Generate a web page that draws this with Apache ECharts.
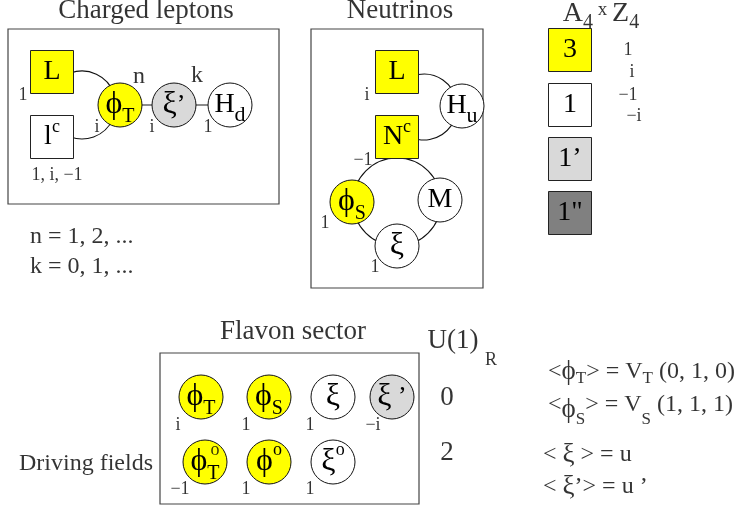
<!DOCTYPE html>
<html>
<head>
<meta charset="utf-8">
<script src="https://cdn.jsdelivr.net/npm/echarts@6/dist/echarts.min.js"></script>
<style>
  html, body { margin: 0; background: #fff; }
  #chart { width: 739px; height: 516px; }
</style>
</head>
<body>
<div id="chart"></div>
<script>
// sector frames: [x1, y1, x2, y2]
const frames = [
  [8, 29, 279, 204],
  [311, 29, 483, 288],
  [160, 353, 419, 504],
];

// square fields: [x, y, A4 rep, label]
const squareFields = [
  [52, 72, '3', '{m|L}'],
  [52, 137, '1', '{m|l}{sup|c}'],
  [397, 72, '3', '{m|L}'],
  [397, 137, '3', '{m|N}{sup|c}'],
  [570, 50, '3', '{m|3}'],
  [570, 105, '1', '{m|1}'],
  [570, 159, "1'", '{m|1’}'],
  [570, 213, '1"', '{m|1"}'],
];

// round fields: [x, y, A4 rep, label]
const circleFields = [
  [120, 105, '3', '{g|ϕ}{sub|T}'],
  [174, 105, "1'", '{g|ξ}{pr|’}'],
  [230, 105, '1', '{m|H}{subd|d}'],
  [462, 106, '1', '{m|H}{subd|u}'],
  [352, 202, '3', '{g|ϕ}{sub|S}'],
  [440, 200, '1', '{m|M}'],
  [397, 246, '1', '{g|ξ}'],
  [201, 397, '3', '{g|ϕ}{sub|T}'],
  [269, 397, '3', '{g|ϕ}{sub|S}'],
  [333, 397, '1', '{g|ξ}'],
  [392, 397, "1'", '{g|ξ}{pr| ’}'],
  [205, 462, '3', '{g|ϕ}{sub|T}'],
  [269, 462, '3', '{g|ϕ}{supo|o}'],
  [333, 462, '1', '{g|ξ}{supo|o}'],
];

// couplings drawn as arcs: [cx, cy, r, startDeg, endDeg]
const arcs = [
  [82, 105, 34, -110, 110],
  [424, 107, 33, -100, 100],
  [397, 202, 44, 0, 360],
];

// straight couplings
const bonds = [[[120, 105], [230, 105]]];

// Z4 charges: [x, y, text]
const charges = [
  [23, 95, '1'], [97, 127, 'i'], [152, 127, 'i'], [208, 127, '1'],
  [57, 175, '1, i, −1'],
  [367, 95, 'i'], [363, 160, '−1'], [325, 223, '1'], [375, 267, '1'],
  [628, 50, '1'], [632, 72, 'i'], [628, 95, '−1'], [634, 116, '−i'],
  [178, 425, 'i'], [246, 425, '1'], [310, 425, '1'], [373, 425, '−i'],
  [180, 489, '−1'], [246, 489, '1'], [310, 489, '1'],
];

// free text: [x, y, kind, text]
const captions = [
  [146, 11, 'title', 'Charged leptons'],
  [400, 11, 'title', 'Neutrinos'],
  [601, 14, 'title', '{m|A}{sub4|4}{x| x }{m|Z}{sub4|4}'],
  [293, 332, 'title', 'Flavon sector'],
  [453, 341, 'title', 'U(1)'],
  [491, 360, 'small', 'R'],
  [139, 77, 'note', 'n'],
  [197, 76, 'note', 'k'],
  [215, 450, 'small', 'o'],
  [30, 237, 'noteL', 'n = 1, 2, ...'],
  [30, 267, 'noteL', 'k = 0, 1, ...'],
  [86, 464, 'note', 'Driving fields'],
  [447, 398, 'title', '0'],
  [447, 453, 'title', '2'],
  [548, 372, 'vev', '{v|<}{vg|ϕ}{vs|T}{v|> = V}{vs|T}{v| (0, 1, 0)}'],
  [548, 405, 'vev', '{v|<}{vp|ϕ}{vs2|S}{v|> = V}{vs2|S}{v| (1, 1, 1)}'],
  [543, 455, 'vev', '{v|< }{vg|ξ}{v| > = u}'],
  [543, 487, 'vev', '{v|< }{vg|ξ}{v|’> = u ’}'],
];

const FONT = '"Liberation Serif", "DejaVu Serif", serif';
const fills = { '3': '#ffff00', '1': '#ffffff', "1'": '#d9d9d9', '1"': '#808080' };

// padding on top pushes a token down by half of it, padding below lifts it
const rich = {
  m: { fontSize: 28, lineHeight: 30, fontFamily: FONT, color: '#000' },
  g: { fontSize: 32, lineHeight: 30, fontFamily: FONT, color: '#000' },
  sub: { fontSize: 20, padding: [24, 0, 0, 0], fontFamily: FONT, color: '#000' },
  subd: { fontSize: 22, padding: [20, 0, 0, 0], fontFamily: FONT, color: '#000' },
  sup: { fontSize: 18, padding: [0, 0, 20, 0], fontFamily: FONT, color: '#000' },
  supo: { fontSize: 18, padding: [0, 0, 24, 0], fontFamily: FONT, color: '#000' },
  pr: { fontSize: 26, fontFamily: FONT, color: '#000' },
  x: { fontSize: 19, padding: [0, 0, 8, 0], fontFamily: FONT, color: '#000' },
  sub4: { fontSize: 20, padding: [18, 0, 0, 0], fontFamily: FONT, color: '#000' },
  v: { fontSize: 24, lineHeight: 24, fontFamily: FONT, color: '#000' },
  vg: { fontSize: 27, lineHeight: 24, fontFamily: FONT, color: '#000' },
  vp: { fontSize: 27, padding: [10, 0, 0, 0], fontFamily: FONT, color: '#000' },
  vs: { fontSize: 17, padding: [14, 0, 0, 0], fontFamily: FONT, color: '#000' },
  vs2: { fontSize: 17, padding: [30, 0, 0, 0], fontFamily: FONT, color: '#000' },
};

const captionStyle = {
  title: { fontSize: 27, align: 'center' },
  small: { fontSize: 18, align: 'center' },
  note: { fontSize: 24, align: 'center' },
  noteL: { fontSize: 24, align: 'left' },
  vev: { fontSize: 24, align: 'left' },
};

const chart = echarts.init(document.getElementById('chart'));

const nodeItem = ([x, y, rep, text]) => ({
  value: [x, y],
  itemStyle: { color: fills[rep] },
  label: { formatter: text },
});

const option = {
  animation: false,
  grid: { left: 0, right: 0, top: 0, bottom: 0 },
  xAxis: { type: 'value', min: 0, max: 739, show: false },
  yAxis: { type: 'value', min: 0, max: 516, inverse: true, show: false },
  series: [
    {
      type: 'custom',
      name: 'frames',
      silent: true,
      z: 1,
      data: frames,
      renderItem: (params, api) => {
        const a = api.coord([api.value(0), api.value(1)]);
        const b = api.coord([api.value(2), api.value(3)]);
        return {
          type: 'rect',
          shape: { x: a[0], y: a[1], width: b[0] - a[0], height: b[1] - a[1] },
          style: { fill: 'none', stroke: '#444', lineWidth: 1.2 },
        };
      },
    },
    {
      type: 'custom',
      name: 'arcs',
      silent: true,
      z: 2,
      data: arcs,
      renderItem: (params, api) => {
        const c = api.coord([api.value(0), api.value(1)]);
        const r = api.size([api.value(2), 0])[0];
        return {
          type: 'arc',
          shape: {
            cx: c[0], cy: c[1], r: r,
            startAngle: api.value(3) * Math.PI / 180,
            endAngle: api.value(4) * Math.PI / 180,
            clockwise: true,
          },
          style: { fill: 'none', stroke: '#111', lineWidth: 1.1 },
        };
      },
    },
    {
      type: 'lines',
      name: 'bonds',
      coordinateSystem: 'cartesian2d',
      silent: true,
      z: 2,
      lineStyle: { color: '#666', width: 1.6, opacity: 1 },
      data: bonds.map(c => ({ coords: c })),
    },
    {
      type: 'scatter',
      name: 'squares',
      silent: true,
      z: 3,
      symbol: 'rect',
      symbolSize: 43,
      itemStyle: { borderColor: '#222', borderWidth: 1, opacity: 1 },
      label: { show: true, position: 'inside', rich: rich },
      data: squareFields.map(nodeItem),
    },
    {
      type: 'scatter',
      name: 'circles',
      silent: true,
      z: 3,
      symbol: 'circle',
      symbolSize: 44,
      itemStyle: { borderColor: '#111', borderWidth: 1, opacity: 1 },
      label: { show: true, position: 'inside', rich: rich },
      data: circleFields.map(nodeItem),
    },
    {
      type: 'scatter',
      name: 'charges',
      silent: true,
      z: 4,
      symbolSize: 0,
      label: {
        show: true, position: 'inside', fontSize: 18, fontFamily: FONT, color: '#000',
        formatter: p => p.data.text,
      },
      data: charges.map(([x, y, t]) => ({ value: [x, y], text: t })),
    },
    {
      type: 'scatter',
      name: 'captions',
      silent: true,
      z: 4,
      symbolSize: 0,
      label: { show: true, position: 'inside', fontFamily: FONT, color: '#000', rich: rich },
      data: captions.map(([x, y, kind, t]) => ({
        value: [x, y],
        label: Object.assign({ formatter: t, verticalAlign: 'middle' }, captionStyle[kind]),
      })),
    },
  ],
};

chart.setOption(option);
</script>
</body>
</html>
